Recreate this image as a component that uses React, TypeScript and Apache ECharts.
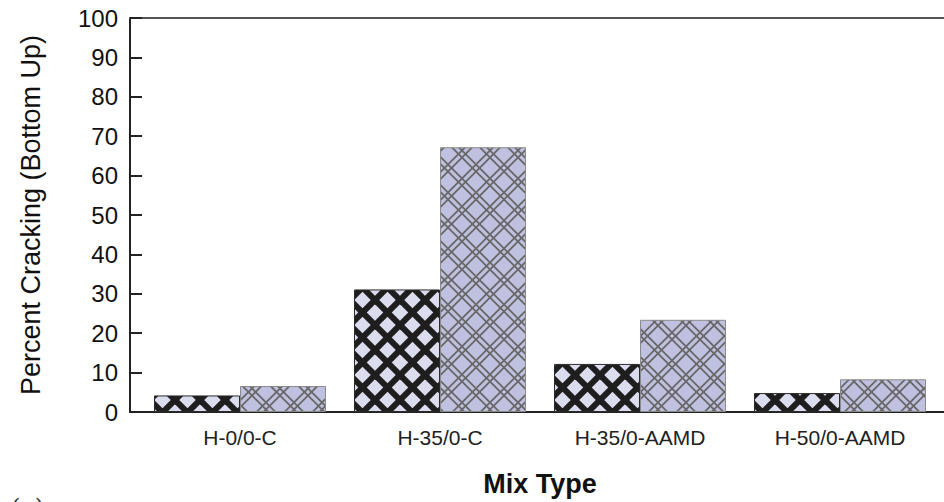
import React, { useEffect, useRef } from "react";
import * as echarts from "echarts";

const categories = ["H-0/0-C", "H-35/0-C", "H-35/0-AAMD", "H-50/0-AAMD"];
const seriesDark = [4.2, 31.1, 12.2, 4.8];
const seriesLight = [6.6, 67.2, 23.4, 8.3];
const yMin = 0;
const yMax = 100;
const yInterval = 10;

function makeHatch(P: number, bg: string, stroke: string, lw: number, offsets: number[]) {
  const c = document.createElement("canvas");
  c.width = P;
  c.height = P;
  const ctx = c.getContext("2d")!;
  ctx.fillStyle = bg;
  ctx.fillRect(0, 0, P, P);
  ctx.strokeStyle = stroke;
  ctx.lineWidth = lw;
  for (const k0 of [-P, 0, P]) {
    for (const o of offsets) {
      const k = k0 + o;
      ctx.beginPath();
      ctx.moveTo(k - 2, -2);
      ctx.lineTo(k + P + 2, P + 2);
      ctx.stroke();
      ctx.beginPath();
      ctx.moveTo(P + k + 2, -2);
      ctx.lineTo(k - 2, P + 2);
      ctx.stroke();
    }
  }
  return c;
}

export default function App() {
  const ref = useRef<HTMLDivElement>(null);
  useEffect(() => {
    if (!ref.current) return;
    const chart = echarts.init(ref.current, null, { renderer: "svg" });
    const darkPat = makeHatch(25, "#dcdcef", "#1e1e1e", 6, [0]);
    const d = 2.5 * Math.SQRT2;
    const lightPat = makeHatch(28, "#c0c0e0", "#686868", 1.8, [-d, d]);
    const font = "'Liberation Sans', Arial, sans-serif";
    chart.setOption({
      animation: false,
      backgroundColor: "#ffffff",
      grid: [
        { left: 140, right: 4, top: 18, bottom: 90, outerBoundsMode: "none", containLabel: false },
        { left: 130, right: 0, top: 18, bottom: 90, outerBoundsMode: "none", containLabel: false },
      ],
      xAxis: [
        {
          type: "category",
          gridIndex: 0,
          data: categories,
          axisLine: { show: false },
          axisTick: { show: false },
          axisLabel: { fontFamily: font, fontSize: 21, color: "#222", margin: 15 },
          name: "Mix Type",
          nameLocation: "middle",
          nameGap: 58,
          nameTextStyle: { fontFamily: font, fontSize: 27, fontWeight: "bold", color: "#111" },
        },
        {
          type: "value",
          gridIndex: 1,
          position: "bottom",
          min: 0,
          max: 1,
          axisLine: { show: true, lineStyle: { color: "#222", width: 2 } },
          axisTick: { show: false },
          axisLabel: { show: false },
          splitLine: { show: false },
        },
        {
          type: "value",
          gridIndex: 1,
          position: "top",
          min: 0,
          max: 1,
          axisLine: { show: true, lineStyle: { color: "#555", width: 2 } },
          axisTick: { show: false },
          axisLabel: { show: false },
          splitLine: { show: false },
        },
      ],
      yAxis: [
        {
          type: "value",
          gridIndex: 0,
          min: yMin,
          max: yMax,
          show: false,
        },
        {
          type: "value",
          gridIndex: 1,
          min: yMin,
          max: yMax,
          interval: yInterval,
          axisLine: { show: true, lineStyle: { color: "#222", width: 2 } },
          axisTick: { show: true, inside: true, length: 12, lineStyle: { color: "#222", width: 2 } },
          axisLabel: { fontFamily: font, fontSize: 24, color: "#111", margin: 12 },
          splitLine: { show: false },
          name: "Percent Cracking (Bottom Up)",
          nameLocation: "middle",
          nameGap: 86,
          nameTextStyle: { fontFamily: font, fontSize: 27, color: "#111" },
        },
      ],
      series: [
        {
          name: "Series 1",
          type: "bar",
          xAxisIndex: 0,
          yAxisIndex: 0,
          data: seriesDark,
          barGap: "0%",
          barCategoryGap: "14%",
          itemStyle: {
            color: { image: darkPat, repeat: "repeat" },
            borderColor: "#2a2a2a",
            borderWidth: 1,
          },
        },
        {
          name: "Series 2",
          type: "bar",
          xAxisIndex: 0,
          yAxisIndex: 0,
          data: seriesLight,
          barGap: "0%",
          barCategoryGap: "14%",
          itemStyle: {
            color: { image: lightPat, repeat: "repeat" },
            borderColor: "#8a8a8a",
            borderWidth: 1,
          },
        },
      ],
      graphic: [
        {
          type: "text",
          left: 11,
          top: 496,
          style: { text: "(a)", font: "24px 'DejaVu Serif', serif", fill: "#333" },
        },
      ],
    });
    return () => chart.dispose();
  }, []);
  return <div ref={ref} style={{ width: 944, height: 502, position: "fixed", left: 0, top: 0 }} />;
}
